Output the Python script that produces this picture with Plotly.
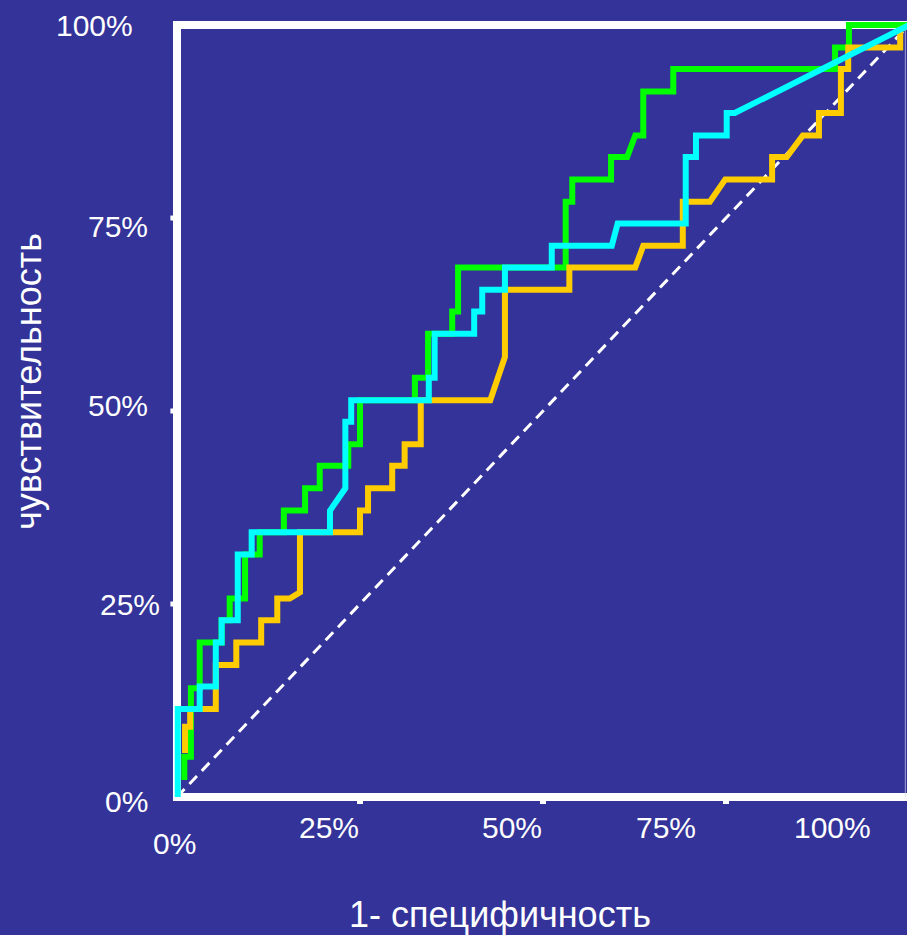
import plotly.graph_objects as go

# ---- data (percent) ----
green_x = [1.0, 1.0, 1.9, 1.9, 3.1, 3.1, 6.1, 6.1, 7.2, 7.2, 9.3, 9.3, 11.3, 11.3, 14.6, 14.6,
           17.5, 17.5, 19.5, 19.5, 23.4, 23.4, 25.0, 25.0, 32.5, 32.5, 34.3, 34.3, 37.6, 37.6,
           38.4, 38.4, 53.1, 53.1, 54.0, 54.0, 59.3, 59.3, 61.5, 62.6, 63.7, 63.7, 67.8, 67.8,
           89.9, 89.9, 91.8, 91.8, 100]
green_y = [2.2, 5.2, 5.2, 14.1, 14.1, 20.0, 20.0, 22.9, 22.9, 25.7, 25.7, 31.4, 31.4, 34.3,
           34.3, 37.1, 37.1, 40.0, 40.0, 42.9, 42.9, 45.7, 45.7, 51.4, 51.4, 54.3, 54.3, 60.0,
           60.0, 62.9, 62.9, 68.6, 68.6, 77.1, 77.1, 80.0, 80.0, 82.9, 82.9, 85.7, 85.7, 91.4,
           91.4, 94.3, 94.3, 97.1, 97.1, 100, 100]

cyan_x = [0.1, 0.1, 3.1, 3.1, 5.3, 5.3, 6.1, 6.1, 8.3, 8.3, 10.2, 10.2, 20.9, 20.9, 23.0, 23.0,
          23.8, 23.8, 34.4, 34.4, 35.2, 35.2, 40.6, 40.6, 41.7, 41.7, 44.8, 44.8, 51.2, 51.2,
          59.4, 60.2, 69.5, 69.5, 70.9, 70.9, 75.1, 75.1, 76.2, 100]
cyan_y = [0, 11.4, 11.4, 14.3, 14.3, 20.0, 20.0, 22.9, 22.9, 31.4, 31.4, 34.3, 34.3, 37.1,
          40.0, 48.6, 48.6, 51.4, 51.4, 54.3, 54.3, 60.0, 60.0, 62.9, 62.9, 65.7, 65.7, 68.6,
          68.6, 71.4, 71.4, 74.3, 74.3, 82.9, 82.9, 85.7, 85.7, 88.6, 88.6, 100]

yellow_x = [1.1, 1.1, 1.8, 1.8, 5.3, 5.3, 8.1, 8.1, 11.5, 11.5, 13.7, 13.7, 15.4, 16.8, 16.8,
            25.0, 25.0, 26.1, 26.1, 29.4, 29.4, 31.1, 31.1, 33.3, 33.3, 42.8, 44.8, 44.8, 53.6,
            53.6, 62.6, 63.7, 69.1, 69.1, 72.8, 74.9, 81.3, 81.3, 83.3, 85.5, 87.7, 87.7, 90.7,
            90.7, 91.7, 91.7, 98.8, 98.8, 100]
yellow_y = [5.7, 9.1, 9.1, 11.4, 11.4, 17.1, 17.1, 20.0, 20.0, 22.9, 22.9, 25.7, 25.7, 26.5,
            34.3, 34.3, 37.1, 37.1, 40.0, 40.0, 42.9, 42.9, 45.7, 45.7, 51.4, 51.4, 57.0, 65.7,
            65.7, 68.6, 68.6, 71.4, 71.4, 77.1, 77.1, 80.0, 80.0, 82.9, 82.9, 85.7, 85.7, 88.6,
            88.6, 94.3, 94.3, 97.1, 97.1, 99.4, 100]

diag_x = [0, 100]
diag_y = [0, 100]

tick_vals = [0, 25, 50, 75, 100]
tick_text = ["0%", "25%", "50%", "75%", "100%"]
x_title = "1- специфичность"
y_title = "чувствительность"

# ---- style ----
BG = "#333399"
FONT = "Liberation Sans, Arial, sans-serif"
W, H = 907, 935
PL, PT, PB = 170, 18, 131            # plot area pixel edges (left, top, bottom margin)
PW, PH = W - PL, H - PT - PB         # plot area size in px
XMIN, XMAX = -0.956, 99.73
YMIN, YMAX = -0.91, 100.91


def paper_x(px):
    return (px - PL) / PW


def paper_y(py):
    return (H - PB - py) / PH


fig = go.Figure()
fig.add_trace(go.Scatter(x=diag_x, y=diag_y, mode="lines",
                         line=dict(color="white", width=3, dash="11px,7px"),
                         hoverinfo="skip"))
fig.add_trace(go.Scatter(x=green_x, y=green_y, mode="lines",
                         line=dict(color="#00FF00", width=6)))
fig.add_trace(go.Scatter(x=yellow_x, y=yellow_y, mode="lines",
                         line=dict(color="#FFCC00", width=6)))
fig.add_trace(go.Scatter(x=cyan_x, y=cyan_y, mode="lines",
                         line=dict(color="#00FFFF", width=6)))

shapes = [
    dict(type="path", xref="x", yref="y", layer="below",
         path=f"M {XMAX},100 L 0,100 L 0,0 L {XMAX},0",
         line=dict(color="white", width=8)),
    dict(type="line", xref="x", yref="y", layer="below",
         x0=99.5, x1=99.5, y0=0, y1=100,
         line=dict(color="rgba(210,210,235,0.7)", width=1)),
]
for v in tick_vals[1:4]:
    shapes.append(dict(type="line", xref="x", yref="y", layer="below",
                       x0=v, x1=v, y0=0, y1=-1.0, line=dict(color="white", width=6)))
    shapes.append(dict(type="line", xref="x", yref="y", layer="below",
                       x0=0, x1=-0.9, y0=v, y1=v, line=dict(color="white", width=5)))

annotations = []
# x tick labels: centre positions in px, as placed in the reference
x_label_px = [(174, 843), (329, 827), (512, 827), (666, 827), (832, 827)]
for t, (cx, cy) in zip(tick_text, x_label_px):
    annotations.append(dict(x=paper_x(cx), y=paper_y(cy), xref="paper", yref="paper",
                            text=t, showarrow=False, xanchor="center", yanchor="middle",
                            font=dict(family=FONT, size=30, color="white")))
# y tick labels: right edge / centre in px
y_label_px = [(150, 801), (162, 604), (150, 405), (150, 226), (135, 25.5)]
for t, (rx, cy) in zip(tick_text, y_label_px):
    annotations.append(dict(x=paper_x(rx), y=paper_y(cy), xref="paper", yref="paper",
                            text=t, showarrow=False, xanchor="right", yanchor="middle",
                            font=dict(family=FONT, size=30, color="white")))
# axis titles
annotations.append(dict(x=paper_x(500), y=paper_y(914), xref="paper", yref="paper",
                        text=x_title, showarrow=False, xanchor="center", yanchor="middle",
                        font=dict(family=FONT, size=36, color="white")))
annotations.append(dict(x=paper_x(28), y=paper_y(382), xref="paper", yref="paper",
                        text=y_title, showarrow=False, xanchor="center", yanchor="middle",
                        textangle=-90, font=dict(family=FONT, size=36, color="white")))

fig.update_layout(
    width=W, height=H,
    paper_bgcolor=BG, plot_bgcolor=BG,
    margin=dict(l=PL, r=0, t=PT, b=PB, pad=0),
    showlegend=False,
    xaxis=dict(range=[XMIN, XMAX], showgrid=False, zeroline=False, showline=False,
               showticklabels=False, ticks="", fixedrange=True),
    yaxis=dict(range=[YMIN, YMAX], showgrid=False, zeroline=False, showline=False,
               showticklabels=False, ticks="", fixedrange=True),
    shapes=shapes,
    annotations=annotations,
)

fig.write_html(
    "out.html",
    config={"displayModeBar": False},
    post_script="document.body.style.margin='0';document.body.style.padding='0';"
                "document.body.style.overflow='hidden';"
                "document.body.style.background='" + BG + "';",
)
